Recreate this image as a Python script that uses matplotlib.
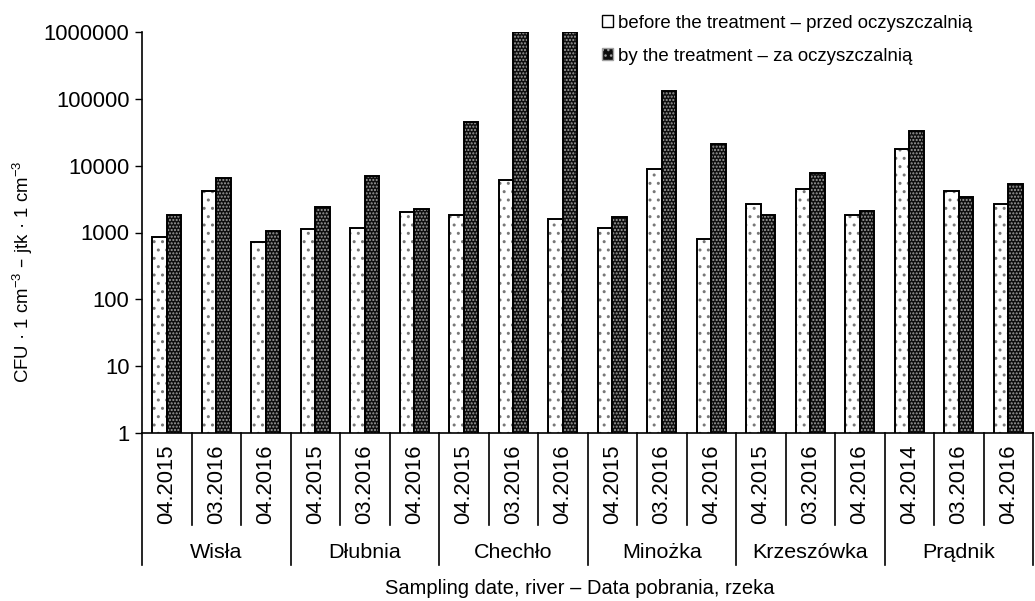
import matplotlib
matplotlib.use("Agg")
import matplotlib.pyplot as plt
import matplotlib.transforms as mtransforms
from matplotlib.patches import Patch
import numpy as np

plt.rcParams["font.family"] = ["Liberation Sans", "DejaVu Sans"]
plt.rcParams["mathtext.default"] = "regular"
plt.rcParams["hatch.linewidth"] = 1.0

rivers = ["Wisła", "Dłubnia", "Chechło", "Minożka", "Krzeszówka", "Prądnik"]
dates = [
    ["04.2015", "03.2016", "04.2016"],
    ["04.2015", "03.2016", "04.2016"],
    ["04.2015", "03.2016", "04.2016"],
    ["04.2015", "03.2016", "04.2016"],
    ["04.2015", "03.2016", "04.2016"],
    ["04.2014", "03.2016", "04.2016"],
]
before = [865, 4170, 720,
          1120, 1180, 2000,
          1820, 6050, 1610,
          1180, 8830, 810,
          2670, 4470, 1830,
          17600, 4230, 2670]
after = [1850, 6470, 1050,
         2380, 7000, 2220,
         45500, 1000000, 1000000,
         1700, 132000, 21100,
         1830, 7850, 2080,
         33000, 3440, 5380]
yticks = [1, 10, 100, 1000, 10000, 100000, 1000000]

labels_before = "before the treatment – przed oczyszczalnią"
labels_after = "by the treatment – za oczyszczalnią"

fs_num = 15.8
fs_txt = 14.5
fs_leg = 13.4

fig = plt.figure(figsize=(10.35, 6.01), dpi=100)
ax = fig.add_axes([142 / 1035, 1 - 433 / 601, (1033 - 142) / 1035, (433 - 32) / 601])

x = np.arange(len(before))
w = 0.29
dark = "#0e0e0e"
# before: white with sparse grey dots
ax.bar(x - w / 2, before, w, color="white", edgecolor="#777777", hatch="..", lw=0)
ax.bar(x - w / 2, before, w, color="none", edgecolor="black", lw=1.4)
# after: dark with dense light dots
ax.bar(x + w / 2, after, w, color=dark, edgecolor="#a0a0a0", hatch=".....", lw=0)
ax.bar(x + w / 2, after, w, color="none", edgecolor="black", lw=1.4)

ax.set_yscale("log")
ax.set_ylim(1, 1000000)
ax.set_xlim(-0.5, len(before) - 0.5)
ax.set_yticks(yticks)
ax.set_yticklabels([str(v) for v in yticks], fontsize=fs_num)
ax.yaxis.set_minor_locator(matplotlib.ticker.NullLocator())
ax.tick_params(axis="y", length=5, width=1, pad=4)
ax.set_xticks([])
for s in ["top", "right"]:
    ax.spines[s].set_visible(False)
for s in ["left", "bottom"]:
    ax.spines[s].set_linewidth(1.2)

fig.text(23 / 1035, 1 - 272 / 601, r"CFU · 1 cm$^{-3}$ – jtk · 1 cm$^{-3}$",
         rotation=90, ha="center", va="center", fontsize=fs_leg)

# category axis below the plot
trans = mtransforms.blended_transform_factory(ax.transData, ax.transAxes)
h = 401.0
flat_dates = [d for grp in dates for d in grp]
for i in range(len(flat_dates) + 1):
    xs = i - 0.5
    if i % 3 == 0:
        y1 = -(565 - 433) / h
    else:
        y1 = -(525 - 433) / h
    ax.plot([xs, xs], [0, y1], color="black", lw=1.2, transform=trans, clip_on=False)
for i, d in enumerate(flat_dates):
    ax.text(i, -(484 - 433) / h, d, rotation=90, ha="center", va="center",
            fontsize=fs_num, transform=trans)
for g, r in enumerate(rivers):
    ax.text(g * 3 + 1, -(553 - 433) / h, r, ha="center", va="center",
            fontsize=fs_num * 0.98, transform=trans)

fig.text(580 / 1035, 1 - 588 / 601, "Sampling date, river – Data pobrania, rzeka",
         ha="center", va="center", fontsize=fs_txt)

handles = [
    Patch(facecolor="white", edgecolor="black", lw=1),
    Patch(facecolor=dark, edgecolor="#a0a0a0", hatch="...", lw=1),
]
fig.legend(handles, [labels_before, labels_after], loc="upper left",
           bbox_to_anchor=(598 / 1035, 1 - 11 / 601), frameon=False, fontsize=fs_leg,
           handlelength=0.6, handleheight=0.6, handletextpad=0.25, labelspacing=0.85,
           borderaxespad=0, borderpad=0.2)

fig.savefig("out.png", dpi=100)
